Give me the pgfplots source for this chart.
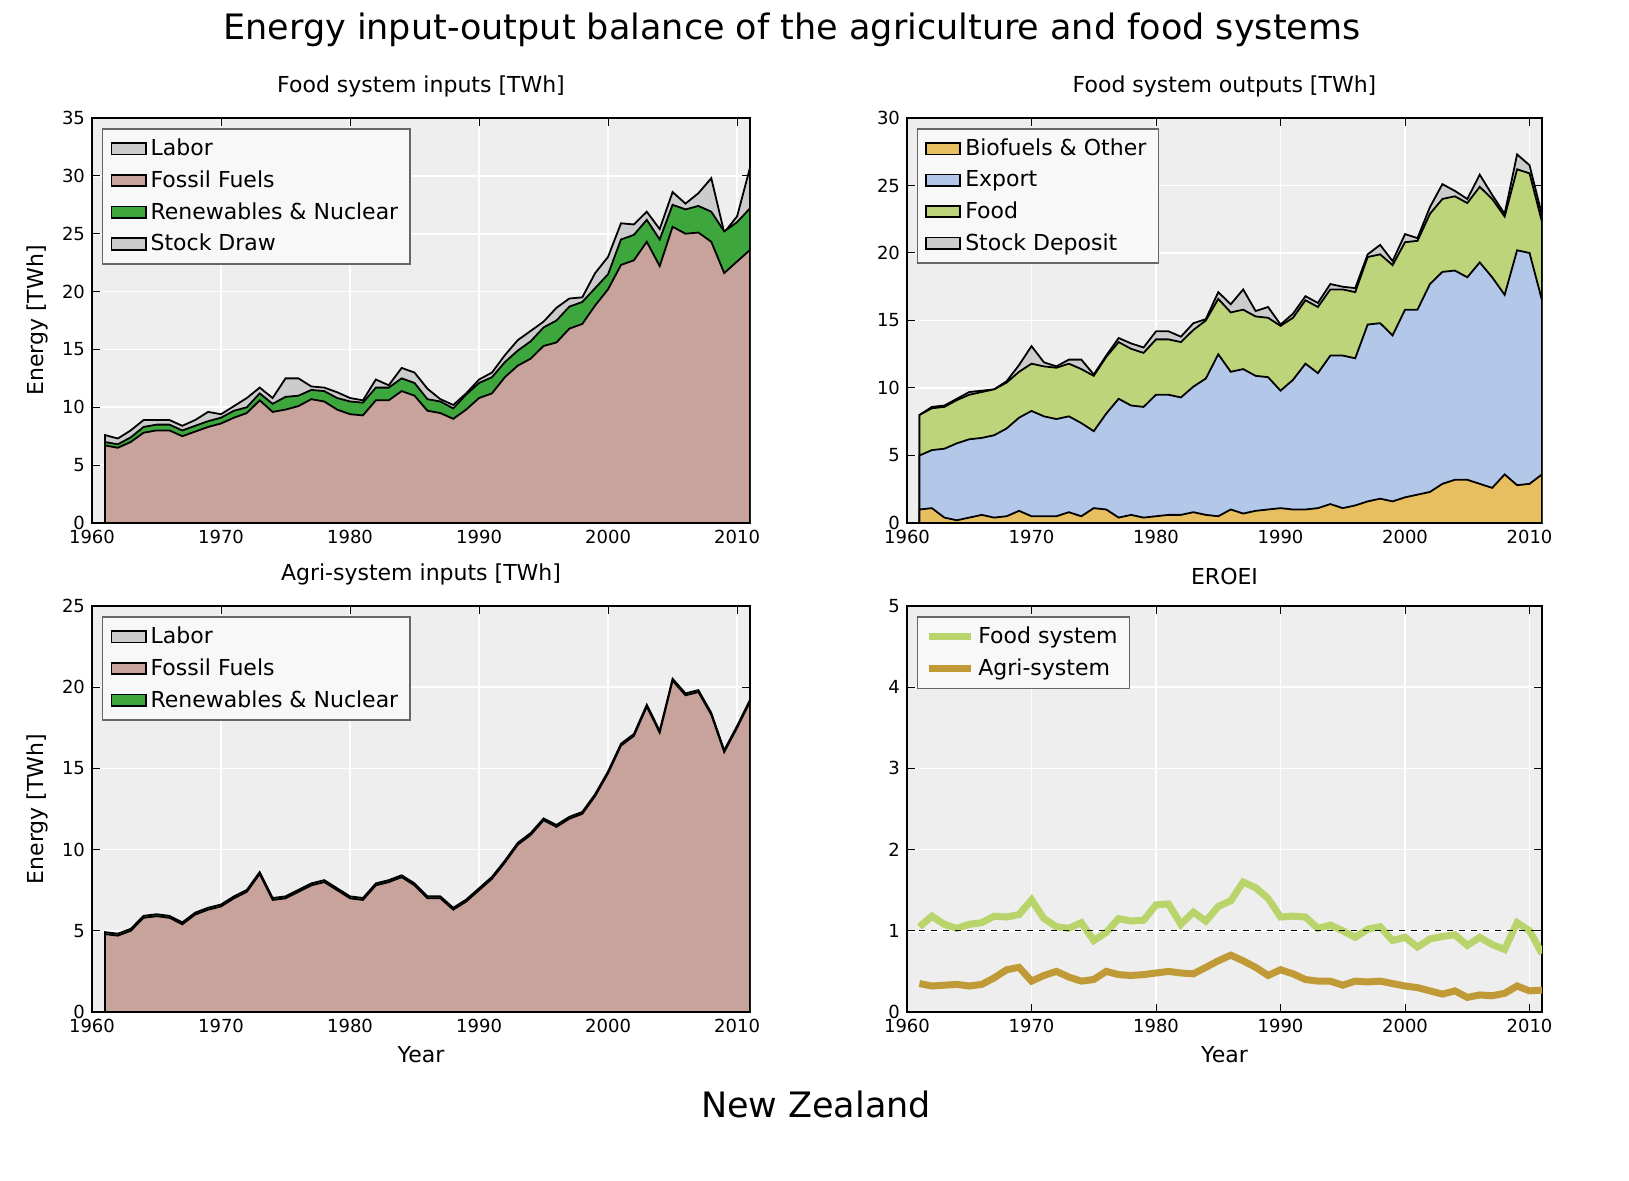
\documentclass[border=0pt]{standalone}
\usepackage{pgfplots}
\pgfplotsset{compat=1.18}
\usepackage{pgfplotstable}
\usepackage{fontspec}
\setmainfont{DejaVu Sans}
\definecolor{bgc}{HTML}{EEEEEE}
\definecolor{ffc}{HTML}{C8A39B}
\definecolor{rnc}{HTML}{3DA73D}
\definecolor{gyc}{HTML}{CCCCCC}
\definecolor{bfc}{HTML}{E8BF60}
\definecolor{exc}{HTML}{B3C8E8}
\definecolor{fdc}{HTML}{BDD47B}
\definecolor{efc}{HTML}{B8D46A}
\definecolor{eac}{HTML}{C09A36}
\pgfplotstableread{
y ff fr tot
1961 6.7 7.0 7.6
1962 6.5 6.8 7.3
1963 7.0 7.4 8.0
1964 7.8 8.3 8.9
1965 8.0 8.5 8.9
1966 8.0 8.5 8.9
1967 7.5 8.0 8.4
1968 7.9 8.4 8.9
1969 8.3 8.8 9.6
1970 8.6 9.1 9.4
1971 9.1 9.7 10.1
1972 9.5 10.0 10.8
1973 10.6 11.2 11.7
1974 9.6 10.3 10.8
1975 9.8 10.9 12.5
1976 10.1 11.0 12.5
1977 10.7 11.5 11.8
1978 10.5 11.4 11.7
1979 9.8 10.8 11.3
1980 9.4 10.5 10.8
1981 9.3 10.4 10.6
1982 10.6 11.7 12.4
1983 10.6 11.7 11.9
1984 11.4 12.5 13.4
1985 11.0 12.1 13.0
1986 9.7 10.7 11.6
1987 9.5 10.5 10.7
1988 9.0 9.9 10.2
1989 9.8 11.1 11.2
1990 10.8 12.1 12.4
1991 11.2 12.6 13.0
1992 12.6 13.9 14.5
1993 13.6 14.9 15.8
1994 14.2 15.7 16.6
1995 15.3 16.9 17.4
1996 15.6 17.5 18.6
1997 16.8 18.7 19.4
1998 17.2 19.1 19.5
1999 18.8 20.3 21.6
2000 20.2 21.5 23.0
2001 22.3 24.5 25.9
2002 22.7 24.9 25.8
2003 24.3 26.2 26.9
2004 22.2 24.5 25.4
2005 25.6 27.5 28.6
2006 25.0 27.1 27.6
2007 25.1 27.4 28.5
2008 24.3 26.9 29.8
2009 21.6 25.2 25.1
2010 22.6 26.0 26.5
2011 23.6 27.2 30.7
}\tabA
\pgfplotstableread{
y bf ex fd st
1961 1.0 5.0 8.0 8.0
1962 1.1 5.4 8.5 8.6
1963 0.4 5.5 8.6 8.7
1964 0.2 5.9 9.1 9.2
1965 0.4 6.2 9.5 9.7
1966 0.6 6.3 9.7 9.8
1967 0.4 6.5 9.9 9.9
1968 0.5 7.0 10.4 10.5
1969 0.9 7.8 11.2 11.7
1970 0.5 8.3 11.8 13.1
1971 0.5 7.9 11.6 11.9
1972 0.5 7.7 11.5 11.6
1973 0.8 7.9 11.8 12.1
1974 0.5 7.4 11.4 12.1
1975 1.1 6.8 10.9 11.0
1976 1.0 8.1 12.3 12.4
1977 0.4 9.2 13.4 13.7
1978 0.6 8.7 12.9 13.3
1979 0.4 8.6 12.6 13.0
1980 0.5 9.5 13.6 14.2
1981 0.6 9.5 13.6 14.2
1982 0.6 9.3 13.4 13.8
1983 0.8 10.1 14.3 14.8
1984 0.6 10.7 15.0 15.1
1985 0.5 12.5 16.6 17.1
1986 1.0 11.2 15.6 16.2
1987 0.7 11.4 15.8 17.3
1988 0.9 10.9 15.3 15.7
1989 1.0 10.8 15.2 16.0
1990 1.1 9.8 14.6 14.7
1991 1.0 10.6 15.2 15.5
1992 1.0 11.8 16.5 16.8
1993 1.1 11.1 16.0 16.3
1994 1.4 12.4 17.3 17.7
1995 1.1 12.4 17.3 17.5
1996 1.3 12.2 17.1 17.4
1997 1.6 14.7 19.7 19.9
1998 1.8 14.8 19.9 20.6
1999 1.6 13.9 19.1 19.4
2000 1.9 15.8 20.8 21.4
2001 2.1 15.8 20.9 21.1
2002 2.3 17.7 22.9 23.4
2003 2.9 18.6 24.0 25.1
2004 3.2 18.7 24.2 24.6
2005 3.2 18.2 23.7 24.0
2006 2.9 19.3 24.9 25.8
2007 2.6 18.2 24.0 24.3
2008 3.6 16.9 22.7 22.9
2009 2.8 20.2 26.2 27.3
2010 2.9 20.0 25.9 26.5
2011 3.6 16.5 22.3 22.8
}\tabB
\pgfplotstableread{
y ff ef ea
1961 4.8 1.05 0.35
1962 4.7 1.18 0.32
1963 5.0 1.08 0.33
1964 5.8 1.03 0.34
1965 5.9 1.08 0.32
1966 5.8 1.10 0.34
1967 5.4 1.18 0.42
1968 6.0 1.17 0.52
1969 6.3 1.20 0.55
1970 6.5 1.38 0.38
1971 7.0 1.15 0.45
1972 7.4 1.05 0.50
1973 8.5 1.03 0.43
1974 6.9 1.10 0.38
1975 7.0 0.88 0.40
1976 7.4 0.98 0.50
1977 7.8 1.15 0.46
1978 8.0 1.12 0.45
1979 7.5 1.13 0.46
1980 7.0 1.32 0.48
1981 6.9 1.33 0.50
1982 7.8 1.08 0.48
1983 8.0 1.23 0.47
1984 8.3 1.12 0.55
1985 7.8 1.30 0.63
1986 7.0 1.37 0.70
1987 7.0 1.60 0.63
1988 6.3 1.53 0.55
1989 6.8 1.40 0.45
1990 7.5 1.17 0.52
1991 8.2 1.18 0.47
1992 9.2 1.17 0.40
1993 10.3 1.03 0.38
1994 10.9 1.07 0.38
1995 11.8 1.00 0.33
1996 11.4 0.92 0.38
1997 11.9 1.02 0.37
1998 12.2 1.05 0.38
1999 13.3 0.88 0.35
2000 14.7 0.92 0.32
2001 16.4 0.80 0.30
2002 17.0 0.90 0.26
2003 18.8 0.93 0.22
2004 17.2 0.95 0.26
2005 20.4 0.82 0.18
2006 19.5 0.92 0.21
2007 19.7 0.83 0.20
2008 18.3 0.77 0.23
2009 16.0 1.10 0.32
2010 17.5 1.00 0.26
2011 19.1 0.72 0.27
}\tabC
\pgfplotsset{
  every axis/.append style={
    scale only axis, axis background/.style={fill=bgc},
    xmin=1960, xmax=2011, xtick={1960,1970,...,2010},
    grid=major, major grid style={white, line width=0.8pt},
    tick align=inside, major tick length=4pt,
    tick style={black, line width=0.5pt},
    ticklabel style={font=\fontsize{9}{10}\selectfont},
    /pgf/number format/assume math mode=true,
    /pgf/number format/1000 sep={},
    axis line style={line width=0.6pt},
    title style={font=\fontsize{11}{12}\selectfont, yshift=1pt},
    label style={font=\fontsize{11}{12}\selectfont},
    legend style={at={(0.015,0.975)}, anchor=north west, fill=white!60!bgc, draw=gray!80!black, line width=0.8pt,
      font=\fontsize{11}{13}\selectfont, row sep=2pt, inner xsep=4pt, inner ysep=3pt},
    legend cell align=left,
  },
  ar/.style={draw=black, line width=0.9pt, area legend},
}
\begin{document}
\begin{tikzpicture}
\path (0pt,0pt) rectangle (814.5pt,-590.5pt);
\node[font=\fontsize{17.5}{20}\selectfont] at (396pt,-15pt) {Energy input-output balance of the agriculture and food systems};
\node[font=\fontsize{17.5}{20}\selectfont] at (408pt,-552pt) {New Zealand};
% panel 1
\begin{axis}[at={(46pt,-59pt)}, anchor=north west, width=329pt, height=202.5pt,
  ymin=0, ymax=35, ytick={0,5,...,35}, title={Food system inputs [TWh]}, ylabel={Energy [TWh]},
  legend image code/.code={\draw[#1] (0pt,-3.5pt) rectangle (21pt,5pt);}]
\addlegendimage{ar, fill=gyc}\addlegendentry{Labor}
\addlegendimage{ar, fill=ffc}\addlegendentry{Fossil Fuels}
\addlegendimage{ar, fill=rnc}\addlegendentry{Renewables \& Nuclear}
\addlegendimage{ar, fill=gyc}\addlegendentry{Stock Draw}
\addplot[forget plot, ar, fill=gyc] table[x=y,y=tot]{\tabA} \closedcycle;
\addplot[forget plot, ar, fill=rnc] table[x=y,y=fr]{\tabA} \closedcycle;
\addplot[forget plot, ar, fill=ffc] table[x=y,y=ff]{\tabA} \closedcycle;
\end{axis}
% panel 2
\begin{axis}[at={(453.5pt,-59pt)}, anchor=north west, width=317.5pt, height=202.5pt,
  ymin=0, ymax=30, ytick={0,5,...,30}, title={Food system outputs [TWh]},
  legend image code/.code={\draw[#1] (0pt,-3.5pt) rectangle (21pt,5pt);}]
\addlegendimage{ar, fill=bfc}\addlegendentry{Biofuels \& Other}
\addlegendimage{ar, fill=exc}\addlegendentry{Export}
\addlegendimage{ar, fill=fdc}\addlegendentry{Food}
\addlegendimage{ar, fill=gyc}\addlegendentry{Stock Deposit}
\addplot[forget plot, ar, fill=gyc] table[x=y,y=st]{\tabB} \closedcycle;
\addplot[forget plot, ar, fill=fdc] table[x=y,y=fd]{\tabB} \closedcycle;
\addplot[forget plot, ar, fill=exc] table[x=y,y=ex]{\tabB} \closedcycle;
\addplot[forget plot, ar, fill=bfc] table[x=y,y=bf]{\tabB} \closedcycle;
\end{axis}
% panel 3
\begin{axis}[at={(46pt,-303pt)}, anchor=north west, width=329pt, height=203pt,
  ymin=0, ymax=25, ytick={0,5,...,25}, title={Agri-system inputs [TWh]}, ylabel={Energy [TWh]}, xlabel={Year},
  legend image code/.code={\draw[#1] (0pt,-3.5pt) rectangle (21pt,5pt);}]
\addlegendimage{ar, fill=gyc}\addlegendentry{Labor}
\addlegendimage{ar, fill=ffc}\addlegendentry{Fossil Fuels}
\addlegendimage{ar, fill=rnc}\addlegendentry{Renewables \& Nuclear}
\addplot[forget plot, ar, fill=rnc] table[x=y,y expr=\thisrow{ff}+0.12]{\tabC} \closedcycle;
\addplot[forget plot, ar, fill=ffc] table[x=y,y=ff]{\tabC} \closedcycle;
\end{axis}
% panel 4
\begin{axis}[at={(453.5pt,-303pt)}, anchor=north west, width=317.5pt, height=203pt,
  ymin=0, ymax=5, ytick={0,1,...,5}, title={EROEI}, xlabel={Year},
  legend image code/.code={\draw[#1] (0pt,0pt) -- (21pt,0pt);}]
\addplot[efc, line width=3.5pt] table[x=y,y=ef]{\tabC};\addlegendentry{Food system}
\addplot[eac, line width=3.5pt] table[x=y,y=ea]{\tabC};\addlegendentry{Agri-system}
\addplot[forget plot, black, dashed, line width=0.5pt] coordinates {(1960,1) (2011,1)};
\end{axis}
\end{tikzpicture}
\end{document}
